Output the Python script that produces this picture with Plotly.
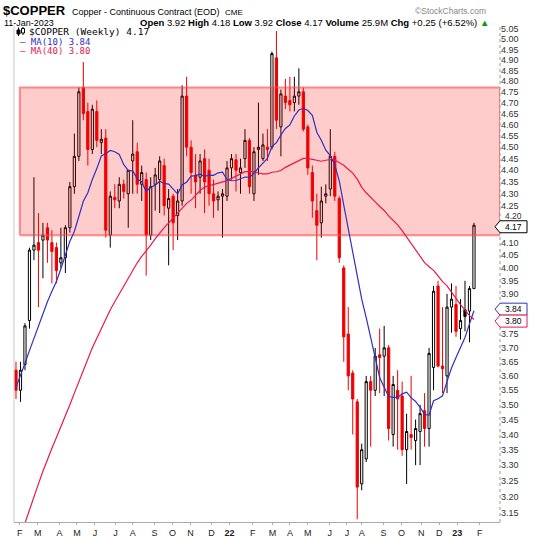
import math
import pandas as pd
import plotly.graph_objects as go

# ---------------- data (weekly bars, week starting Monday) ----------------
first_week = "2021-01-25"
opens = [3.62, 3.55, 3.64, 3.80, 4.07, 4.10, 4.11, 4.16, 4.10, 4.08,
         4.02, 4.04, 4.16, 4.33, 4.46, 4.77, 4.66, 4.49, 4.66, 4.52,
         4.54, 4.13, 4.285, 4.27, 4.34, 4.30, 4.44, 4.48, 4.34, 4.36,
         4.13, 4.34, 4.36, 4.42, 4.24, 4.29, 4.21, 4.27, 4.73, 4.50,
         4.38, 4.37, 4.45, 4.40, 4.30, 4.275, 4.29, 4.29, 4.41, 4.445,
         4.39, 4.45, 4.53, 4.30, 4.49, 4.45, 4.50, 4.50, 4.91, 4.59,
         4.73, 4.71, 4.70, 4.73, 4.75, 4.59, 4.39, 4.23, 4.18, 4.29,
         4.32, 4.46, 4.28, 4.00, 3.75, 3.61, 3.51, 3.24, 3.32, 3.58,
         3.55, 3.675, 3.67, 3.70, 3.40, 3.55, 3.53, 3.35, 3.40, 3.38,
         3.41, 3.48, 3.42, 3.63, 3.93, 3.635, 3.60, 3.85, 3.86, 3.77,
         3.84, 3.835, 3.92]
highs = [3.65, 3.65, 3.79, 4.08, 4.37, 4.22, 4.18, 4.18, 4.15, 4.10,
         4.16, 4.17, 4.35, 4.56, 4.77, 4.89, 4.70, 4.69, 4.71, 4.58,
         4.58, 4.31, 4.34, 4.37, 4.36, 4.40, 4.62, 4.52, 4.42, 4.39,
         4.37, 4.41, 4.46, 4.45, 4.32, 4.30, 4.32, 4.78, 4.82, 4.53,
         4.47, 4.47, 4.49, 4.45, 4.36, 4.31, 4.32, 4.44, 4.47, 4.47,
         4.45, 4.58, 4.54, 4.50, 4.70, 4.56, 4.58, 4.94, 5.04, 4.76,
         4.81, 4.82, 4.82, 4.86, 4.77, 4.60, 4.42, 4.30, 4.33, 4.34,
         4.58, 4.48, 4.29, 4.01, 3.85, 3.62, 3.52, 3.37, 3.60, 3.60,
         3.70, 3.77, 3.78, 3.71, 3.60, 3.62, 3.58, 3.47, 3.60, 3.45,
         3.50, 3.54, 3.70, 3.93, 3.95, 3.85, 3.90, 3.94, 3.93, 3.88,
         3.95, 3.93, 4.18]
lows = [3.52, 3.51, 3.62, 3.77, 4.03, 3.85, 3.96, 4.02, 3.94, 3.94,
        4.00, 3.98, 4.14, 4.30, 4.44, 4.62, 4.42, 4.47, 4.50, 4.47,
        4.12, 4.08, 4.24, 4.24, 4.28, 4.16, 4.30, 4.30, 4.27, 3.97,
        4.11, 4.23, 4.22, 4.21, 4.01, 4.07, 4.11, 4.25, 4.46, 4.30,
        4.24, 4.30, 4.22, 4.25, 4.20, 4.23, 4.12, 4.27, 4.36, 4.31,
        4.30, 4.41, 4.30, 4.27, 4.38, 4.44, 4.44, 4.49, 4.58, 4.46,
        4.67, 4.66, 4.66, 4.69, 4.57, 4.38, 4.20, 4.03, 4.12, 4.26,
        4.29, 4.27, 4.02, 3.65, 3.55, 3.40, 3.13, 3.22, 3.31, 3.36,
        3.53, 3.54, 3.53, 3.38, 3.36, 3.35, 3.33, 3.24, 3.35, 3.30,
        3.30, 3.36, 3.36, 3.55, 3.63, 3.54, 3.54, 3.755, 3.74, 3.73,
        3.76, 3.72, 3.92]
closes = [3.55, 3.62, 3.78, 4.07, 4.09, 4.07, 4.13, 4.11, 4.065, 3.99,
          4.04, 4.16, 4.33, 4.46, 4.75, 4.65, 4.49, 4.67, 4.53, 4.535,
          4.15, 4.29, 4.275, 4.34, 4.31, 4.40, 4.47, 4.34, 4.39, 4.13,
          4.33, 4.38, 4.44, 4.25, 4.28, 4.18, 4.27, 4.73, 4.50, 4.39,
          4.35, 4.44, 4.35, 4.30, 4.27, 4.29, 4.30, 4.41, 4.45, 4.40,
          4.41, 4.53, 4.33, 4.48, 4.50, 4.51, 4.49, 4.93, 4.62, 4.74,
          4.70, 4.69, 4.73, 4.75, 4.58, 4.41, 4.27, 4.17, 4.27, 4.30,
          4.46, 4.29, 4.04, 3.74, 3.60, 3.52, 3.23, 3.35, 3.58, 3.55,
          3.67, 3.665, 3.70, 3.42, 3.57, 3.52, 3.35, 3.41, 3.39, 3.42,
          3.47, 3.42, 3.68, 3.91, 3.635, 3.625, 3.85, 3.88, 3.76, 3.80,
          3.815, 3.92, 4.17]
prior_close = 3.64  # close of the week before the first bar

# moving-average values before a full window exists
ma10_early = [3.56, 3.60, 3.645, 3.69, 3.735, 3.78, 3.83, 3.87, 3.91]
ma40_early = [3.04, 3.08, 3.12, 3.16, 3.20, 3.24, 3.28, 3.32, 3.355, 3.39,
              3.425, 3.46, 3.50, 3.54, 3.58, 3.62, 3.66, 3.70, 3.735, 3.77,
              3.805, 3.84, 3.87, 3.90, 3.93, 3.96, 3.99, 4.02, 4.045, 4.07,
              4.09, 4.115, 4.14, 4.16, 4.18, 4.20, 4.22, 4.24, 4.26]

zone = [4.13, 4.77]
zone_start = "2021-01-31"

# month labels, at the positions where the chart prints them
month_ticks = ["2021-01-31", "2021-02-28", "2021-04-03", "2021-04-30", "2021-05-28",
               "2021-06-29", "2021-07-26", "2021-08-29", "2021-09-26", "2021-10-24",
               "2021-11-26", "2021-12-24", "2022-01-29", "2022-03-01", "2022-03-28",
               "2022-04-25", "2022-05-29", "2022-06-25", "2022-07-18", "2022-08-21",
               "2022-09-18", "2022-10-19", "2022-11-16", "2022-12-14", "2023-01-18"]
month_text = ["F", "M", "A", "M", "J", "J", "A", "S", "O", "N", "D", "<b>22</b>",
              "F", "M", "A", "M", "J", "J", "A", "S", "O", "N", "D", "<b>23</b>", "F"]
ytick_vals = [3.15, 3.20, 3.25, 3.30, 3.35, 3.40, 3.45, 3.50, 3.55, 3.60, 3.65,
              3.70, 3.75, 3.90, 3.95, 4.00, 4.05, 4.10,
              4.25, 4.30, 4.35, 4.40, 4.45, 4.50, 4.55, 4.60, 4.65, 4.70, 4.75,
              4.80, 4.85, 4.90, 4.95, 5.00, 5.05]
crowded_tick = 4.20  # printed just above the last-price flag

last_close, last_ma10, last_ma40 = 4.17, 3.84, 3.80
y_lo, y_hi = 3.1218, 5.0648
x_start = pd.Timestamp("2021-01-21 21:36")
x_end = pd.Timestamp("2023-02-18 14:00")

# ---------------- derived ----------------
weeks = list(pd.date_range(first_week, periods=len(closes), freq="7D"))
prev = [prior_close] + closes[:-1]
red_idx = [i for i in range(len(closes)) if closes[i] < prev[i]]
blk_idx = [i for i in range(len(closes)) if closes[i] >= prev[i]]


def sub(lst, idx):
    return [lst[i] for i in idx]


cs = pd.Series(closes)
ma10 = cs.rolling(10).mean().tolist()
ma10[:len(ma10_early)] = ma10_early
ma40 = cs.rolling(40).mean().tolist()
ma40[:len(ma40_early)] = ma40_early

RED = "#ee0000"
BLUE = "#3030c0"
MARED = "#e8174f"
fig = go.Figure()
fig.add_trace(go.Scatter(
    x=[pd.Timestamp(zone_start), x_end, x_end, pd.Timestamp(zone_start), pd.Timestamp(zone_start)],
    y=[zone[0], zone[0], zone[1], zone[1], zone[0]],
    fill="toself", fillcolor="rgba(255,0,0,0.2)", mode="lines",
    line=dict(color="rgba(255,70,70,0.6)", width=2), hoverinfo="skip", showlegend=False))

for idx, col, fillup, filldn in [(blk_idx, "#000000", "#ffffff", "#000000"),
                                  (red_idx, RED, "#ffffff", RED)]:
    fig.add_trace(go.Candlestick(
        x=sub(weeks, idx), open=sub(opens, idx), high=sub(highs, idx),
        low=sub(lows, idx), close=sub(closes, idx), whiskerwidth=0,
        increasing=dict(line=dict(color=col, width=1), fillcolor=fillup),
        decreasing=dict(line=dict(color=col, width=1), fillcolor=filldn),
        showlegend=False, hoverinfo="skip"))

fig.add_trace(go.Scatter(x=weeks, y=ma40, mode="lines",
                         line=dict(color=MARED, width=1.2), showlegend=False))
fig.add_trace(go.Scatter(x=weeks, y=ma10, mode="lines",
                         line=dict(color=BLUE, width=1.2), showlegend=False))

L, T, W, H = 14, 26, 486, 496


def pxp(px):
    return (px - L) / W


def pyp(py):
    return (T + H - py) / H


def vp(v):
    return (math.log10(v) - math.log10(y_lo)) / (math.log10(y_hi) - math.log10(y_lo))


anns = []


def ann(text, px, py, size, color="#000", xa="left", family="Liberation Sans", **kw):
    anns.append(dict(text=text, x=pxp(px), y=pyp(py), xref="paper", yref="paper",
                     xanchor=xa, yanchor="middle", showarrow=False,
                     font=dict(family=family, size=size, color=color), **kw))


ann("<b>$COPPER</b>", 1, 10.5, 13)
ann("Copper - Continuous Contract (EOD)", 70, 12, 9)
ann("CME", 223, 12.5, 8)
ann("©StockCharts.com", 488, 11.5, 8.5, color="#888888", xa="right")
ann("11-Jan-2023", 2, 23.5, 9)
ann("<b>Open</b> 3.92 <b>High</b> 4.18 <b>Low</b> 3.92 <b>Close</b> 4.17 "
    "<b>Volume</b> 25.9M <b>Chg</b> +0.25 (+6.52%) <span style='color:#0a9a0a'>▲</span>",
    491, 23, 9.5, xa="right")
ann("$COPPER (Weekly) 4.17", 27, 32, 9.5, family="DejaVu Sans Mono")
ann("<span style='color:#3030c0'>—</span> MA(10) 3.84", 18, 42, 9, color=BLUE,
    family="DejaVu Sans Mono")
ann("<span style='color:#e8174f'>—</span> MA(40) 3.80", 18, 51.5, 9, color=MARED,
    family="DejaVu Sans Mono")
anns.append(dict(text=f"{crowded_tick:.2f}", x=pxp(502.5), y=vp(crowded_tick) + 1.5 / H,
                 xref="paper", yref="paper", xanchor="left", yanchor="middle",
                 showarrow=False, font=dict(family="Liberation Sans", size=8.5, color="#333")))

shapes = [
    dict(type="line", xref="paper", yref="paper", x0=0, x1=0, y0=0, y1=1,
         line=dict(color="#c8c8c8", width=1)),
    dict(type="line", xref="paper", yref="paper", x0=1, x1=1, y0=0, y1=1,
         line=dict(color="#999999", width=1, dash="dot")),
    # small candle icon in front of the symbol legend
    dict(type="line", xref="paper", yref="paper", x0=pxp(18.5), x1=pxp(18.5),
         y0=pyp(36), y1=pyp(27.5), line=dict(color="#000", width=1)),
    dict(type="rect", xref="paper", yref="paper", x0=pxp(17), x1=pxp(20),
         y0=pyp(34), y1=pyp(30), line=dict(color="#000", width=1), fillcolor="#000"),
    dict(type="line", xref="paper", yref="paper", x0=pxp(23), x1=pxp(23),
         y0=pyp(35), y1=pyp(27), line=dict(color="#000", width=1)),
    dict(type="rect", xref="paper", yref="paper", x0=pxp(21.5), x1=pxp(24.5),
         y0=pyp(33), y1=pyp(28.5), line=dict(color="#000", width=1), fillcolor="#fff"),
]

# price flags on the right axis
for v, bc, dy in [(last_close, "#000000", -1.5), (last_ma10, BLUE, 0.6), (last_ma40, MARED, -0.6)]:
    yc = vp(v) + dy / H
    hh = 6 / H
    xa_, xb_, xc_ = pxp(495), pxp(500), pxp(527)
    path = (f"M {xa_},{yc} L {xb_},{yc + hh} L {xc_},{yc + hh} "
            f"L {xc_},{yc - hh} L {xb_},{yc - hh} Z")
    shapes.append(dict(type="path", xref="paper", yref="paper", path=path,
                       fillcolor="#ffffff", line=dict(color=bc, width=1), layer="above"))
    anns.append(dict(text=f"{v:.2f}", x=pxp(513.5), y=yc, xref="paper", yref="paper",
                     xanchor="center", yanchor="middle", showarrow=False,
                     font=dict(family="Liberation Sans", size=8.5, color="#000")))

fig.update_layout(
    width=540, height=540, margin=dict(l=L, r=540 - L - W, t=T, b=540 - T - H),
    paper_bgcolor="white", plot_bgcolor="white", showlegend=False,
    annotations=anns, shapes=shapes,
    xaxis=dict(type="date", range=[x_start, x_end], rangeslider=dict(visible=False),
               tickvals=month_ticks, ticktext=month_text, showgrid=False,
               showline=True, linecolor="#aaaaaa", ticks="outside", ticklen=2,
               tickcolor="#aaaaaa", tickangle=0, automargin=False,
               tickfont=dict(family="Liberation Sans", size=9, color="#222")),
    yaxis=dict(type="log", range=[math.log10(y_lo), math.log10(y_hi)], side="right",
               tickvals=ytick_vals, ticktext=[f"{v:.2f}" for v in ytick_vals],
               showgrid=False, zeroline=False, showline=False, ticks="",
               automargin=False,
               tickfont=dict(family="Liberation Sans", size=9, color="#333")),
)

fig.write_html("out.html", config={"displayModeBar": False},
               post_script="document.body.style.margin='0';"
                           "document.body.style.overflow='hidden';")
